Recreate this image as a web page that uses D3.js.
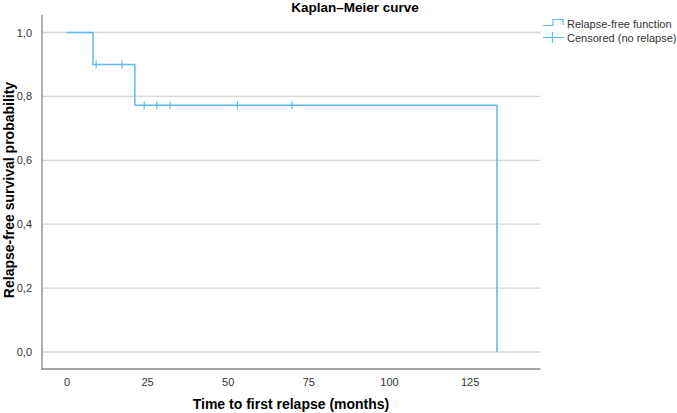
<!DOCTYPE html>
<html>
<head>
<meta charset="utf-8">
<script src="https://cdn.jsdelivr.net/npm/d3@7"></script>
<style>
  body { margin: 0; background: #fff; }
  text { font-family: Arial, "Liberation Sans", sans-serif; }
</style>
</head>
<body>
<script>
  // step function: time of each relapse and the survival after it
  var stepTimes = [0, 8.2, 21.2, 133.5];
  var stepProbs = [1.0, 0.9, 0.772, 0.0];
  // censored cases (no relapse)
  var censorTimes = [9.2, 17.2, 24.1, 28.0, 32.1, 53.0, 69.9];
  var xTicks = [0, 25, 50, 75, 100, 125];
  var yTicks = [0, 0.2, 0.4, 0.6, 0.8, 1.0];

  var width = 677, height = 413;
  var lineColor = "#5cbcf5";

  var svg = d3.select("body").append("svg")
    .attr("width", width)
    .attr("height", height);

  var x = d3.scaleLinear().domain([-7.6, 147]).range([42, 540.5]);
  var y = d3.scaleLinear().domain([0, 1]).range([352, 32.5]);

  // gridlines
  svg.append("g").selectAll("line")
    .data(yTicks)
    .enter().append("line")
    .attr("x1", 42).attr("x2", 540.5)
    .attr("y1", function(d) { return y(d); })
    .attr("y2", function(d) { return y(d); })
    .attr("stroke", "#d6d6d6")
    .attr("stroke-width", 1.3);

  // axes
  var yAxis = d3.axisLeft(y).tickValues(yTicks).tickSize(0).tickPadding(10)
    .tickFormat(function(d) { return d3.format(".1f")(d).replace(".", ","); });
  var gy = svg.append("g").attr("transform", "translate(42,0)").call(yAxis);
  gy.select(".domain").remove();
  gy.selectAll("text").attr("font-size", 11).attr("fill", "#333");

  var xAxis = d3.axisBottom(x).tickValues(xTicks).tickSize(0).tickPadding(9);
  var gx = svg.append("g").attr("transform", "translate(0,369)").call(xAxis);
  gx.select(".domain").remove();
  gx.selectAll("text").attr("font-size", 11).attr("fill", "#333");

  svg.append("line")
    .attr("x1", 42).attr("x2", 42).attr("y1", 15).attr("y2", 369.5)
    .attr("stroke", "#888").attr("stroke-width", 1.3);
  svg.append("line")
    .attr("x1", 41.5).attr("x2", 540.5).attr("y1", 369).attr("y2", 369)
    .attr("stroke", "#888").attr("stroke-width", 1.3);

  // survival curve
  var pts = stepTimes.map(function(t, i) { return [t, stepProbs[i]]; });
  var line = d3.line()
    .x(function(d) { return x(d[0]); })
    .y(function(d) { return y(d[1]); })
    .curve(d3.curveStepAfter);
  svg.append("path")
    .datum(pts)
    .attr("d", line)
    .attr("fill", "none")
    .attr("stroke", lineColor)
    .attr("stroke-width", 1.5);

  // censor marks
  function probAt(t) {
    var p = 1;
    stepTimes.forEach(function(s, i) { if (s <= t) p = stepProbs[i]; });
    return p;
  }
  svg.append("g").selectAll("line")
    .data(censorTimes)
    .enter().append("line")
    .attr("x1", function(d) { return x(d); })
    .attr("x2", function(d) { return x(d); })
    .attr("y1", function(d) { return y(probAt(d)) - 4; })
    .attr("y2", function(d) { return y(probAt(d)) + 4; })
    .attr("stroke", lineColor)
    .attr("stroke-width", 1.2);

  // titles
  svg.append("text")
    .attr("x", 355).attr("y", 12)
    .attr("text-anchor", "middle")
    .attr("font-size", 13.5).attr("font-weight", "bold")
    .text("Kaplan–Meier curve");

  svg.append("text")
    .attr("x", 291).attr("y", 409)
    .attr("text-anchor", "middle")
    .attr("font-size", 14).attr("font-weight", "bold")
    .text("Time to first relapse (months)");

  svg.append("text")
    .attr("transform", "translate(14,190) rotate(-90)")
    .attr("text-anchor", "middle")
    .attr("font-size", 14).attr("font-weight", "bold")
    .text("Relapse-free survival probability");

  // legend
  var leg = svg.append("g");
  leg.append("path")
    .attr("d", "M543,25.5H553V19.5H563V25")
    .attr("fill", "none").attr("stroke", lineColor).attr("stroke-width", 1.2);
  leg.append("line")
    .attr("x1", 543).attr("x2", 564).attr("y1", 37.5).attr("y2", 37.5)
    .attr("stroke", lineColor).attr("stroke-width", 1.2);
  leg.append("line")
    .attr("x1", 552.5).attr("x2", 552.5).attr("y1", 32).attr("y2", 43)
    .attr("stroke", lineColor).attr("stroke-width", 1.2);
  leg.append("text").attr("x", 567).attr("y", 28)
    .attr("font-size", 11).attr("fill", "#333").text("Relapse-free function");
  leg.append("text").attr("x", 567).attr("y", 42)
    .attr("font-size", 11).attr("fill", "#333").text("Censored (no relapse)");
</script>
</body>
</html>
